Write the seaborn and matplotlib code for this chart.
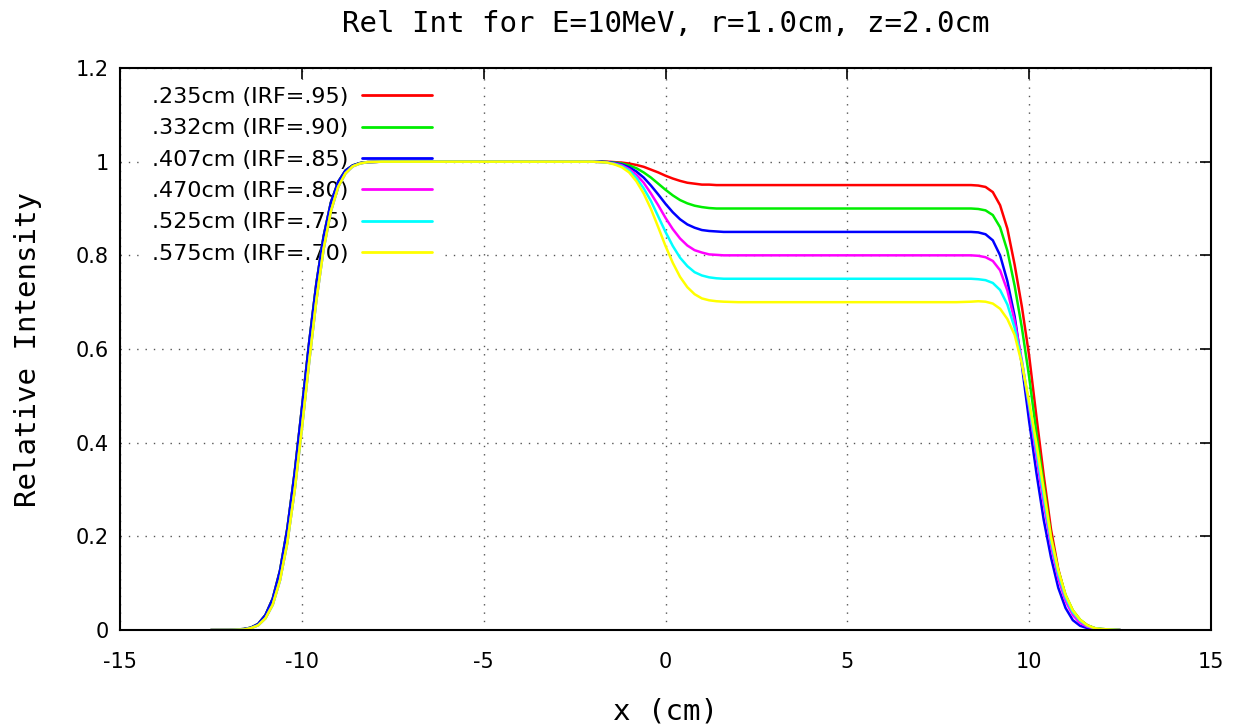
import matplotlib
matplotlib.use("Agg")
import matplotlib.pyplot as plt
from matplotlib.lines import Line2D
import pandas as pd
import seaborn as sns

x_cm = [-12.5, -12.0, -11.6, -11.4, -11.2, -11.0, -10.8, -10.6, -10.4, -10.2,
        -10.0, -9.8, -9.6, -9.4, -9.2, -9.0, -8.8, -8.6, -8.4, -8.2, -7.8,
        -2.2, -2.0, -1.8, -1.6, -1.4, -1.2, -1.0, -0.8, -0.6, -0.4, -0.2,
        0.0, 0.2, 0.4, 0.6, 0.8, 1.0, 1.2, 1.4, 1.6, 2.0, 2.4,
        8.0, 8.4, 8.6, 8.8, 9.0, 9.2, 9.4, 9.6, 9.8, 10.0, 10.2, 10.4, 10.6,
        10.8, 11.0, 11.2, 11.4, 11.6, 11.8, 12.0, 12.5]

irf95 = [0.0, 0.0001, 0.002, 0.005, 0.013, 0.032, 0.067, 0.127, 0.216, 0.334,
         0.472, 0.613, 0.740, 0.841, 0.913, 0.957, 0.981, 0.992, 0.997, 0.999, 1.0,
         1.0, 1.0, 1.0, 1.0, 0.999, 0.998, 0.996, 0.993, 0.989, 0.983, 0.977,
         0.970, 0.964, 0.959, 0.955, 0.953, 0.951, 0.951, 0.950, 0.950, 0.950, 0.950,
         0.950, 0.950, 0.949, 0.946, 0.935, 0.907, 0.857, 0.780, 0.690, 0.585, 0.455,
         0.330, 0.215, 0.130, 0.072, 0.040, 0.021, 0.010, 0.004, 0.002, 0.0]
irf90 = [0.0, 0.0001, 0.002, 0.005, 0.013, 0.032, 0.067, 0.127, 0.216, 0.334,
         0.472, 0.613, 0.740, 0.841, 0.913, 0.957, 0.981, 0.992, 0.997, 0.999, 1.0,
         1.0, 1.0, 1.0, 0.999, 0.998, 0.996, 0.992, 0.986, 0.977, 0.966, 0.953,
         0.940, 0.928, 0.918, 0.911, 0.906, 0.903, 0.901, 0.900, 0.900, 0.900, 0.900,
         0.900, 0.900, 0.899, 0.896, 0.886, 0.860, 0.810, 0.735, 0.645, 0.540, 0.420,
         0.310, 0.200, 0.127, 0.075, 0.042, 0.022, 0.010, 0.004, 0.002, 0.0]
irf85 = [0.0, 0.0001, 0.002, 0.005, 0.013, 0.032, 0.067, 0.127, 0.216, 0.334,
         0.472, 0.613, 0.740, 0.841, 0.913, 0.957, 0.981, 0.992, 0.997, 0.999, 1.0,
         1.0, 1.0, 1.0, 0.999, 0.997, 0.994, 0.988, 0.979, 0.966, 0.949, 0.930,
         0.910, 0.892, 0.877, 0.866, 0.859, 0.854, 0.852, 0.851, 0.850, 0.850, 0.850,
         0.850, 0.850, 0.849, 0.845, 0.832, 0.800, 0.745, 0.670, 0.565, 0.445, 0.335,
         0.235, 0.155, 0.090, 0.047, 0.021, 0.009, 0.004, 0.001, 0.0, 0.0]
irf80 = [0.0, 0.0001, 0.001, 0.004, 0.010, 0.025, 0.054, 0.106, 0.186, 0.296,
         0.429, 0.571, 0.704, 0.814, 0.894, 0.946, 0.975, 0.990, 0.996, 0.999, 1.0,
         1.0, 1.0, 0.999, 0.998, 0.996, 0.992, 0.984, 0.972, 0.955, 0.932, 0.907,
         0.880, 0.856, 0.836, 0.821, 0.811, 0.806, 0.802, 0.801, 0.800, 0.800, 0.800,
         0.800, 0.800, 0.799, 0.796, 0.788, 0.768, 0.725, 0.660, 0.575, 0.475, 0.370,
         0.270, 0.180, 0.110, 0.062, 0.032, 0.015, 0.007, 0.003, 0.001, 0.0]
irf75 = [0.0, 0.0001, 0.001, 0.004, 0.010, 0.025, 0.054, 0.106, 0.186, 0.296,
         0.429, 0.571, 0.704, 0.814, 0.894, 0.946, 0.975, 0.990, 0.996, 0.999, 1.0,
         1.0, 1.0, 0.999, 0.998, 0.995, 0.990, 0.981, 0.965, 0.943, 0.916, 0.883,
         0.850, 0.820, 0.795, 0.777, 0.764, 0.757, 0.753, 0.751, 0.750, 0.750, 0.750,
         0.750, 0.750, 0.749, 0.747, 0.741, 0.726, 0.695, 0.645, 0.572, 0.480, 0.385,
         0.285, 0.190, 0.120, 0.070, 0.038, 0.020, 0.009, 0.004, 0.002, 0.0]
irf70 = [0.0, 0.0001, 0.001, 0.004, 0.010, 0.025, 0.054, 0.106, 0.186, 0.296,
         0.429, 0.571, 0.704, 0.814, 0.894, 0.946, 0.975, 0.990, 0.996, 0.999, 1.0,
         1.0, 1.0, 0.999, 0.998, 0.994, 0.988, 0.977, 0.958, 0.932, 0.899, 0.860,
         0.820, 0.784, 0.754, 0.732, 0.717, 0.708, 0.704, 0.702, 0.701, 0.700, 0.700,
         0.700, 0.701, 0.702, 0.701, 0.697, 0.686, 0.664, 0.630, 0.568, 0.487, 0.398,
         0.300, 0.198, 0.128, 0.075, 0.042, 0.022, 0.010, 0.004, 0.002, 0.0]

labels = [".235cm (IRF=.95)", ".332cm (IRF=.90)", ".407cm (IRF=.85)",
          ".470cm (IRF=.80)", ".525cm (IRF=.75)", ".575cm (IRF=.70)"]
colors = ["#ff0000", "#00ee00", "#0000ff", "#ff00ff", "#00ffff", "#ffff00"]
x_ticks = [-15, -10, -5, 0, 5, 10, 15]
y_ticks = [0, 0.2, 0.4, 0.6, 0.8, 1.0, 1.2]
y_ticklabels = ["0", "0.2", "0.4", "0.6", "0.8", "1", "1.2"]

series = [irf95, irf90, irf85, irf80, irf75, irf70]
df = pd.concat(
    [pd.DataFrame({"x": x_cm, "y": ys, "curve": lab}) for ys, lab in zip(series, labels)],
    ignore_index=True,
)

sns.set_style("white")
plt.rcParams["font.family"] = ["DejaVu Sans"]
plt.rcParams["axes.unicode_minus"] = False
plt.rcParams["text.color"] = "black"
plt.rcParams["axes.labelcolor"] = "black"

fig = plt.figure(figsize=(12.37, 7.28), dpi=100)
ax = fig.add_axes([0.0970, 0.1346, 0.882, 0.772])

sns.lineplot(data=df, x="x", y="y", hue="curve", palette=colors, hue_order=labels,
             estimator=None, sort=False, linewidth=1.8, legend=False, ax=ax, zorder=2)

ax.set_xlim(-15, 15)
ax.set_ylim(0, 1.2)
ax.set_xticks(x_ticks)
ax.set_yticks(y_ticks)
ax.set_yticklabels(y_ticklabels)
ax.tick_params(direction="in", length=8, width=1.2, top=True, right=True,
               labelsize=15, pad=8, colors="black")
ax.tick_params(axis="x", pad=16)
for s in ax.spines.values():
    s.set_color("black")
    s.set_linewidth(1.5)
ax.grid(True, linestyle=(0, (1, 5)), color="#555555", linewidth=1.0)
ax.set_axisbelow(True)

mono = "DejaVu Sans Mono"
ax.set_title("Rel Int for E=10MeV, r=1.0cm, z=2.0cm", family=mono, fontsize=21, pad=26)
ax.set_xlabel("x (cm)", family=mono, fontsize=21, labelpad=18)
ax.set_ylabel("Relative Intensity", family=mono, fontsize=21, labelpad=24)

handles = [Line2D([], [], color=c, linewidth=2.0) for c in colors]
leg = ax.legend(handles, labels, loc="upper left", bbox_to_anchor=(0.023, 0.978),
                markerfirst=False, frameon=True, fancybox=False, framealpha=1,
                facecolor="white", edgecolor="none", fontsize=16,
                handlelength=3.15, handletextpad=0.63, labelspacing=0.51,
                borderpad=0.3, borderaxespad=0)
leg.set_zorder(1.5)

fig.savefig("out.png", dpi=100)
